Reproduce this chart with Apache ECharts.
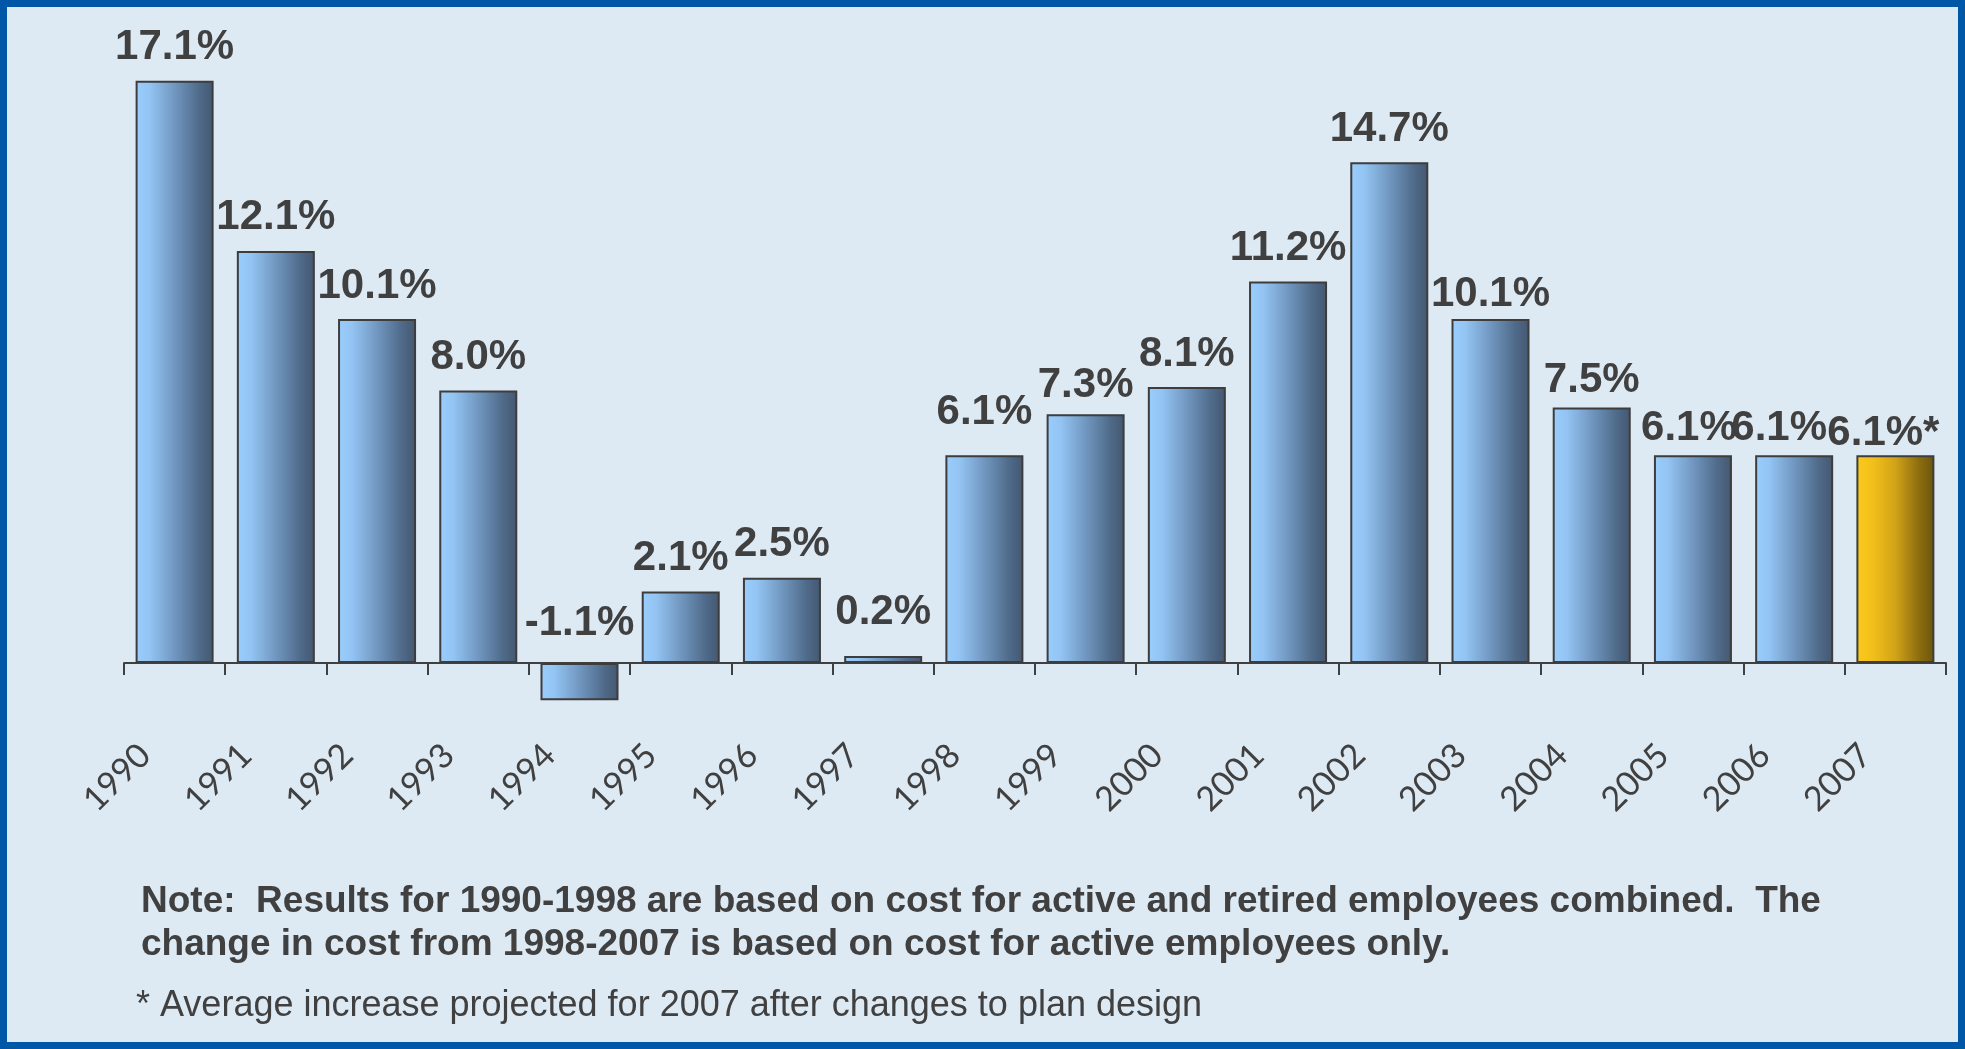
<!DOCTYPE html>
<html>
<head>
<meta charset="utf-8">
<title>Annual change in health benefit cost, 1990–2007</title>
<script src="https://cdn.jsdelivr.net/npm/echarts@6/dist/echarts.min.js"></script>
<style>
  html, body { margin: 0; padding: 0; background: #dde9f3; }
  #chart { width: 1965px; height: 1049px; }
</style>
</head>
<body>
<div id="chart"></div>
<script>
// Years on the category axis
const years = ['1990', '1991', '1992', '1993', '1994', '1995', '1996', '1997', '1998',
               '1999', '2000', '2001', '2002', '2003', '2004', '2005', '2006', '2007'];

// Percent change in cost per year
const increases = [17.1, 12.1, 10.1, 8.0, -1.1, 2.1, 2.5, 0.2, 6.1,
                   7.3, 8.1, 11.2, 14.7, 10.1, 7.5, 6.1, 6.1, 6.1];

// Years whose value is a projection (marked with an asterisk)
const projectedYears = ['2007'];

// Notes printed under the chart
const noteLines = [
  'Note:  Results for 1990-1998 are based on cost for active and retired employees combined.  The',
  'change in cost from 1998-2007 is based on cost for active employees only.'
];
const footnote = '* Average increase projected for 2007 after changes to plan design';

// Bar fills: shaded left-to-right like a rounded column
const blueFill = {
  type: 'linear', x: 0, y: 0, x2: 1, y2: 0,
  colorStops: [
    { offset: 0.00, color: '#9bcefd' },
    { offset: 0.18, color: '#93c4f3' },
    { offset: 0.50, color: '#7197c0' },
    { offset: 0.82, color: '#4f6a89' },
    { offset: 1.00, color: '#445770' }
  ]
};
const goldFill = {
  type: 'linear', x: 0, y: 0, x2: 1, y2: 0,
  colorStops: [
    { offset: 0.00, color: '#fbca1c' },
    { offset: 0.20, color: '#f3c01b' },
    { offset: 0.50, color: '#d1a318' },
    { offset: 0.80, color: '#8d6d10' },
    { offset: 1.00, color: '#6b540d' }
  ]
};

// Small per-year nudges of the value labels, [dx, dy] in pixels
const labelNudge = {
  '1994': [0, -6], '1997': [0, -11], '1998': [0, -10], '1999': [0, 4],
  '2003': [0, 8], '2004': [0, 6], '2005': [-4, 6], '2006': [-15, 6], '2007': [-12, 11]
};

const barData = years.map((year, i) => {
  const projected = projectedYears.includes(year);
  const item = {
    value: increases[i],
    itemStyle: { color: projected ? goldFill : blueFill }
  };
  if (labelNudge[year]) item.label = { offset: labelNudge[year] };
  return item;
});

const textColor = '#404040';

const chart = echarts.init(document.getElementById('chart'), null, { renderer: 'canvas' });

chart.setOption({
  backgroundColor: '#dde9f3',
  animation: false,
  grid: { left: 124, right: 19, top: 50, bottom: 318, containLabel: false },
  xAxis: {
    type: 'category',
    data: years,
    boundaryGap: true,
    axisLine: { show: true, lineStyle: { color: textColor, width: 2 } },
    axisTick: { show: true, length: 12, lineStyle: { color: textColor, width: 2 } },
    axisLabel: {
      rotate: 45,
      margin: -11,
      padding: [0, 42, 0, 0],
      fontFamily: 'Lato, "Open Sans", sans-serif',
      fontWeight: 'normal',
      fontSize: 34,
      color: textColor
    },
    splitLine: { show: false }
  },
  yAxis: {
    type: 'value',
    min: -2,
    max: 18,
    show: false,
    splitLine: { show: false }
  },
  series: [{
    type: 'bar',
    data: barData,
    barWidth: 78,
    itemStyle: { borderColor: '#3d3d3d', borderWidth: 2 },
    label: {
      show: true,
      position: 'top',
      distance: 12,
      fontFamily: '"Liberation Sans", Arial, sans-serif',
      fontWeight: 'bold',
      fontSize: 42,
      color: textColor,
      formatter: p => p.value.toFixed(1) + '%' + (projectedYears.includes(p.name) ? '*' : '')
    }
  }],
  graphic: [
    {
      type: 'rect',
      silent: true,
      shape: { x: 3.5, y: 3.5, width: 1958, height: 1042 },
      style: { fill: null, stroke: '#0056a7', lineWidth: 7 }
    },
    {
      type: 'text',
      left: 141, top: 880,
      style: {
        text: noteLines.join('\n'),
        font: 'bold 37px "Liberation Sans", Arial, sans-serif',
        lineHeight: 43,
        fill: textColor
      }
    },
    {
      type: 'text',
      left: 136, top: 988,
      style: {
        text: footnote,
        font: '36px "Liberation Sans", Arial, sans-serif',
        fill: textColor
      }
    }
  ]
});
</script>
</body>
</html>
